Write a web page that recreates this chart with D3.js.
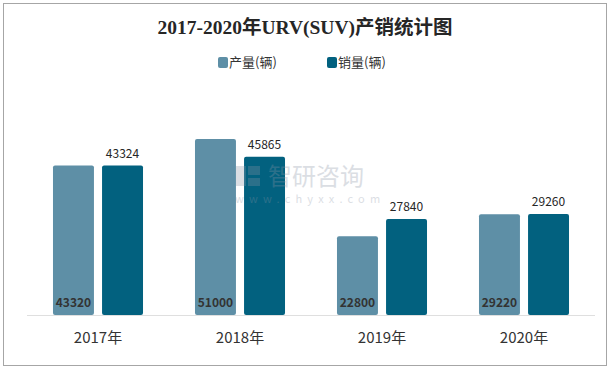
<!DOCTYPE html>
<html>
<head>
<meta charset="utf-8">
<script src="https://cdn.jsdelivr.net/npm/d3@7"></script>
<style>
  body { margin: 0; background: #fff; }
  text { font-family: "Noto Sans CJK SC", "Noto Sans", sans-serif; }
</style>
</head>
<body>
<svg width="610" height="370"></svg>
<script>
// data
const years = ["2017年", "2018年", "2019年", "2020年"];
const seriesNames = ["产量(辆)", "销量(辆)"];
const output = [43320, 51000, 22800, 29220];
const sales = [43324, 45865, 27840, 29260];
const colors = ["#5e8fa6", "#02617f"];

const svg = d3.select("svg");

// outer frame
svg.append("rect")
  .attr("x", 3.5).attr("y", 3.5)
  .attr("width", 603).attr("height", 362)
  .attr("fill", "none")
  .attr("stroke", "#a6a6a6");

// title
svg.append("text")
  .attr("x", 305).attr("y", 34)
  .attr("text-anchor", "middle")
  .style("font-family", "'Liberation Serif', 'Noto Sans CJK SC', serif")
  .style("font-weight", "bold")
  .style("font-size", "19.5px")
  .attr("fill", "#262626")
  .text("2017-2020年URV(SUV)产销统计图");

// legend
const legend = svg.append("g").attr("transform", "translate(218,57)")
  .selectAll("g")
  .data(seriesNames)
  .enter()
  .append("g")
  .attr("transform", function(d, i) { return "translate(" + (i * 109) + ",0)"; });
legend.append("rect")
  .attr("width", 10).attr("height", 11)
  .attr("rx", 2)
  .attr("fill", function(d, i) { return colors[i]; });
legend.append("text")
  .attr("x", 11).attr("y", 10)
  .style("font-size", "13px")
  .attr("fill", "#333")
  .text(function(d) { return d; });

// scales
const x = d3.scaleBand().domain(years).range([27, 595]).paddingInner(0.366).paddingOuter(0.183);
const x1 = d3.scaleBand().domain([0, 1]).range([0, x.bandwidth()]).paddingInner(0.165);
const y = d3.scaleLinear().domain([0, 60000]).range([315, 108]);

const rows = years.map(function(yr, i) { return { year: yr, values: [output[i], sales[i]] }; });

const groups = svg.append("g")
  .selectAll("g")
  .data(rows)
  .enter()
  .append("g")
  .attr("transform", function(d) { return "translate(" + x(d.year) + ",0)"; });

groups.selectAll("rect")
  .data(function(d) { return d.values; })
  .enter()
  .append("rect")
  .attr("x", function(d, i) { return x1(i); })
  .attr("y", function(d) { return y(d); })
  .attr("width", x1.bandwidth())
  .attr("height", function(d) { return y(0) - y(d); })
  .attr("rx", 2)
  .attr("fill", function(d, i) { return colors[i]; });

// watermark, drawn over the bars
const wm = svg.append("g").attr("opacity", 0.3).attr("fill", "#8a95a6");
wm.append("rect").attr("x", 236).attr("y", 166).attr("width", 10).attr("height", 20);
wm.append("rect").attr("x", 248).attr("y", 166).attr("width", 12).attr("height", 9);
wm.append("rect").attr("x", 248).attr("y", 178).attr("width", 12).attr("height", 8);
wm.append("text")
  .attr("x", 268).attr("y", 185)
  .style("font-size", "24px")
  .text("智研咨询");
wm.append("text")
  .attr("x", 235).attr("y", 203)
  .style("font-size", "11px")
  .style("letter-spacing", "5.2px")
  .text("www.chyxx.com");

// output labels: inside bar bottom, bold
groups.append("text")
  .attr("x", function() { return x1(0) + x1.bandwidth() / 2; })
  .attr("y", y(0) - 8)
  .attr("text-anchor", "middle")
  .style("font-size", "12px")
  .style("font-weight", "bold")
  .attr("fill", "#333")
  .text(function(d) { return d.values[0]; });

// sales labels: above bar
groups.append("text")
  .attr("x", function() { return x1(1) + x1.bandwidth() / 2; })
  .attr("y", function(d) { return y(d.values[1]) - 8; })
  .attr("text-anchor", "middle")
  .style("font-size", "12px")
  .attr("fill", "#262626")
  .text(function(d) { return d.values[1]; });

// x axis
const xAxis = svg.append("g")
  .attr("transform", "translate(0," + y(0) + ")")
  .call(d3.axisBottom(x).tickSize(0).tickPadding(17));
xAxis.select(".domain")
  .attr("stroke", "#bfbfbf")
  .attr("stroke-dasharray", "1,1");
xAxis.selectAll("text")
  .style("font-family", "'Noto Sans CJK SC', sans-serif")
  .style("font-size", "15px")
  .attr("fill", "#333");
</script>
</body>
</html>
